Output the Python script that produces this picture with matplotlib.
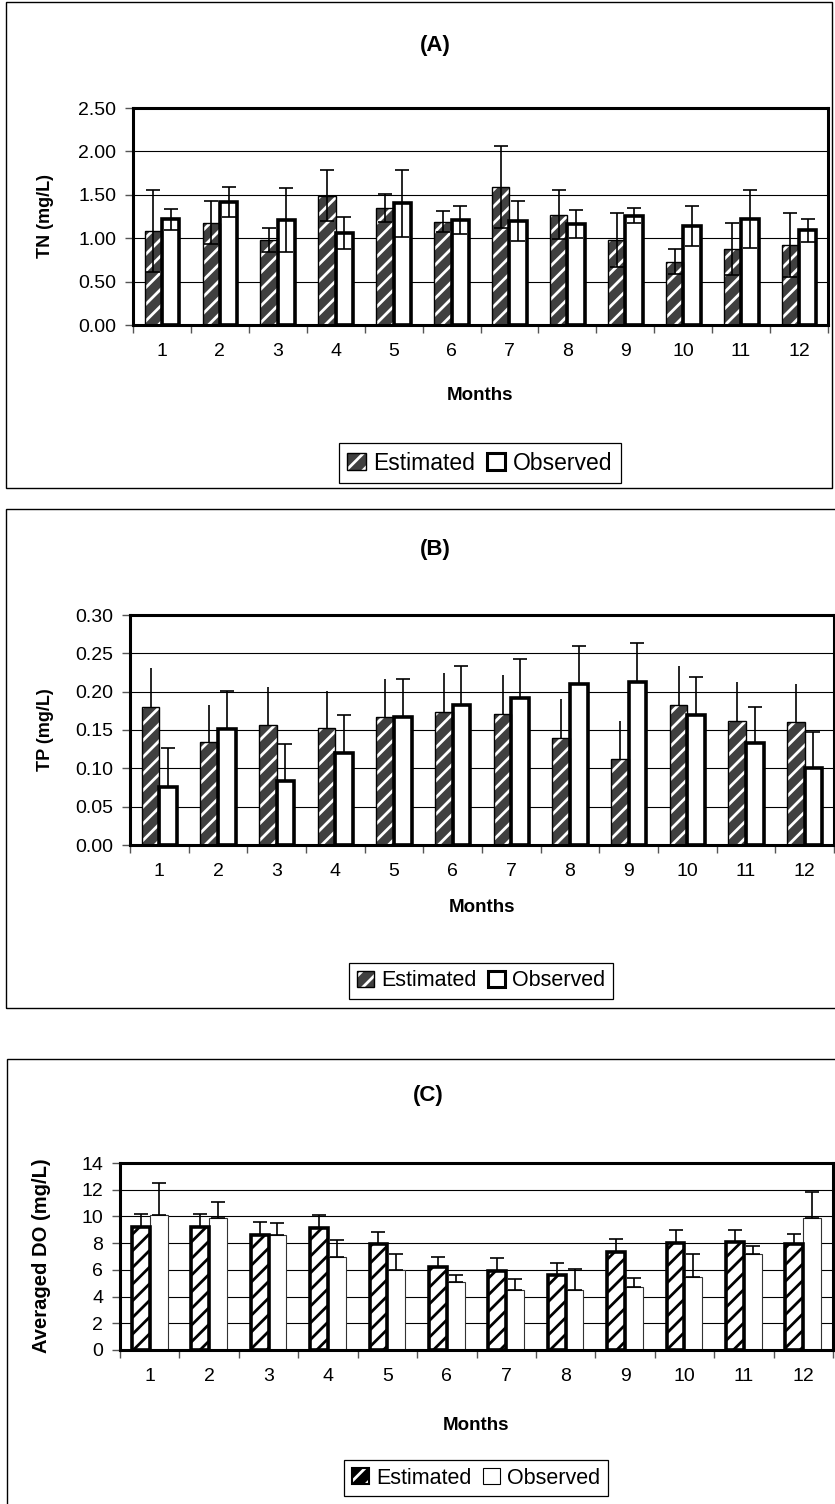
import matplotlib
matplotlib.use('Agg')
import matplotlib.pyplot as plt
from matplotlib.patches import Rectangle, Patch
from matplotlib.legend_handler import HandlerTuple
import numpy as np

plt.rcParams['font.family'] = ['Liberation Sans', 'DejaVu Sans']
plt.rcParams['hatch.linewidth'] = 2.0

months = [str(i) for i in range(1, 13)]

# Panel A: TN (mg/L)
tn_est = [1.08, 1.18, 0.98, 1.49, 1.35, 1.19, 1.59, 1.27, 0.98, 0.73, 0.88, 0.92]
tn_est_sd = [0.47, 0.25, 0.14, 0.29, 0.16, 0.12, 0.47, 0.28, 0.31, 0.14, 0.30, 0.37]
tn_obs = [1.22, 1.42, 1.21, 1.06, 1.40, 1.21, 1.20, 1.16, 1.26, 1.14, 1.22, 1.09]
tn_obs_sd = [0.12, 0.17, 0.37, 0.19, 0.39, 0.16, 0.23, 0.16, 0.09, 0.23, 0.33, 0.13]

# Panel B: TP (mg/L)
tp_est = [0.180, 0.135, 0.156, 0.153, 0.167, 0.173, 0.171, 0.139, 0.112, 0.183, 0.162, 0.160]
tp_est_sd = [0.051, 0.048, 0.050, 0.048, 0.050, 0.051, 0.051, 0.051, 0.050, 0.050, 0.051, 0.050]
tp_obs = [0.076, 0.151, 0.083, 0.120, 0.167, 0.183, 0.192, 0.210, 0.212, 0.170, 0.133, 0.100]
tp_obs_sd = [0.050, 0.050, 0.049, 0.049, 0.050, 0.050, 0.050, 0.050, 0.051, 0.049, 0.047, 0.048]

# Panel C: Averaged DO (mg/L)
do_est = [9.2, 9.2, 8.6, 9.1, 7.9, 6.2, 5.9, 5.6, 7.3, 8.0, 8.1, 7.9]
do_est_sd = [1.0, 1.0, 1.0, 1.0, 0.9, 0.8, 1.0, 0.9, 1.0, 1.0, 0.9, 0.8]
do_obs = [10.1, 9.9, 8.6, 7.0, 6.0, 5.1, 4.5, 4.5, 4.7, 5.5, 7.2, 9.9]
do_obs_sd = [2.4, 1.2, 0.9, 1.2, 1.2, 0.5, 0.8, 1.6, 0.7, 1.7, 0.6, 1.9]

W, H = 835, 1504
fig = plt.figure(figsize=(W / 100, H / 100), dpi=100)


def fx(px):
    return px / W


def fy(py):
    return 1 - py / H


def add_ax(l, t, r, b):
    return fig.add_axes([l / W, 1 - b / H, (r - l) / W, (b - t) / H])


def frame(x0, y0, x1, y1):
    fig.patches.append(Rectangle((fx(x0), fy(y1)), (x1 - x0) / W, (y1 - y0) / H,
                                 transform=fig.transFigure, fill=False,
                                 edgecolor='black', linewidth=1.0))


frame(6, 2, 832, 488)
frame(6, 509, 845, 1008)
frame(7, 1059, 845, 1520)

x = np.arange(12)
bw = 0.30
off = 0.15


def style_axes(ax, ymax, ystep, fmt):
    ax.set_xlim(-0.5, 11.5)
    ax.set_ylim(0, ymax)
    ticks = np.arange(0, ymax + ystep / 2, ystep)
    ax.set_yticks(ticks)
    ax.set_yticklabels([fmt.format(t) for t in ticks], fontsize=14)
    ax.yaxis.grid(True, color='black', linewidth=0.8)
    ax.set_axisbelow(True)
    ax.set_xticks(x)
    ax.set_xticklabels(months, fontsize=14)
    ax.set_xticks(np.arange(-0.5, 12, 1), minor=True)
    ax.tick_params(axis='x', which='major', length=0, pad=13)
    ax.tick_params(axis='x', which='minor', length=6, width=1, color='#555555')
    ax.tick_params(axis='y', which='major', length=6, width=1, color='#555555', pad=6)
    for s in ax.spines.values():
        s.set_linewidth(2.2)
        s.set_color('black')


def hatched_est(ax, vals, face, hatchc, edge_lw):
    ax.bar(x - off, vals, bw, color=face, edgecolor=hatchc, hatch='//',
           linewidth=0, zorder=2)
    ax.bar(x - off, vals, bw, fill=False, edgecolor='black', linewidth=edge_lw,
           zorder=3)


# ---------- Panel A ----------
axA = add_ax(133, 108, 828, 325)
style_axes(axA, 2.5, 0.5, '{:.2f}')
hatched_est(axA, tn_est, '#404040', 'white', 1.0)
axA.bar(x + off, tn_obs, bw, color='white', edgecolor='black', linewidth=2.6, zorder=2)
axA.errorbar(x - off, tn_est, yerr=tn_est_sd, fmt='none', ecolor='black',
             elinewidth=1.2, capsize=5, capthick=1.2, zorder=4)
axA.errorbar(x + off, tn_obs, yerr=tn_obs_sd, fmt='none', ecolor='black',
             elinewidth=1.2, capsize=5, capthick=1.2, zorder=4)

# ---------- Panel B ----------
axB = add_ax(130, 615, 834, 845)
style_axes(axB, 0.30, 0.05, '{:.2f}')
hatched_est(axB, tp_est, '#404040', 'white', 1.0)
axB.bar(x + off, tp_obs, bw, color='white', edgecolor='black', linewidth=2.6, zorder=2)
axB.errorbar(x - off, tp_est, yerr=[np.zeros(12), tp_est_sd], fmt='none',
             ecolor='black', elinewidth=1.2, capsize=0, zorder=4)
axB.errorbar(x + off, tp_obs, yerr=[np.zeros(12), tp_obs_sd], fmt='none',
             ecolor='black', elinewidth=1.2, capsize=5, capthick=1.2, zorder=4)

# ---------- Panel C ----------
axC = add_ax(120, 1163, 833, 1350)
style_axes(axC, 14, 2, '{:.0f}')
hatched_est(axC, do_est, 'white', 'black', 2.6)
axC.bar(x + off, do_obs, bw, color='white', edgecolor='#333333', linewidth=0.8, zorder=2)
axC.errorbar(x - off, do_est, yerr=[np.zeros(12), do_est_sd], fmt='none',
             ecolor='black', elinewidth=1.2, capsize=5, capthick=1.2, zorder=4)
axC.errorbar(x + off, do_obs, yerr=[np.zeros(12), do_obs_sd], fmt='none',
             ecolor='black', elinewidth=1.2, capsize=5, capthick=1.2, zorder=4)

# ---------- Texts ----------
title_kw = dict(fontsize=16, fontweight='bold', ha='center', va='center')
fig.text(fx(435), fy(45), '(A)', **title_kw)
fig.text(fx(435), fy(550), '(B)', **title_kw)
fig.text(fx(428), fy(1096), '(C)', **title_kw)

lab_kw = dict(fontweight='bold', ha='center', va='center')
fig.text(fx(45), fy(216), 'TN (mg/L)', rotation=90, fontsize=13, **lab_kw)
fig.text(fx(45), fy(730), 'TP (mg/L)', rotation=90, fontsize=13, **lab_kw)
fig.text(fx(42), fy(1256), 'Averaged DO (mg/L)', rotation=90, fontsize=14.5, **lab_kw)

fig.text(fx(480), fy(395), 'Months', fontsize=13.5, **lab_kw)
fig.text(fx(482), fy(907), 'Months', fontsize=13.5, **lab_kw)
fig.text(fx(476), fy(1425), 'Months', fontsize=13.5, **lab_kw)


# ---------- Legends ----------
def add_legend(cx, cy, est_handle, obs_handle, fs):
    leg = fig.legend([est_handle, obs_handle], ['Estimated', 'Observed'],
                     loc='center', bbox_to_anchor=(fx(cx), fy(cy)),
                     ncol=2, fontsize=fs, frameon=True, fancybox=False,
                     edgecolor='black', framealpha=1, borderpad=0.35,
                     handlelength=0.8, handleheight=0.8, handletextpad=0.35,
                     columnspacing=0.5,
                     handler_map={tuple: HandlerTuple(ndivide=1, pad=0)})
    leg.get_frame().set_linewidth(0.9)
    return leg


estA = (Patch(facecolor='#404040', edgecolor='white', hatch='//', linewidth=0),
        Patch(fill=False, edgecolor='black', linewidth=1.0))
obsA = Patch(facecolor='white', edgecolor='black', linewidth=2.2)
add_legend(480, 463, estA, obsA, 16.5)
add_legend(481, 981, estA, obsA, 15.5)

estC = (Patch(facecolor='black', edgecolor='white', hatch='//', linewidth=0),
        Patch(fill=False, edgecolor='black', linewidth=1.5))
obsC = Patch(facecolor='white', edgecolor='black', linewidth=0.8)
add_legend(476, 1478, estC, obsC, 15.5)

fig.savefig('out.png', dpi=100)
